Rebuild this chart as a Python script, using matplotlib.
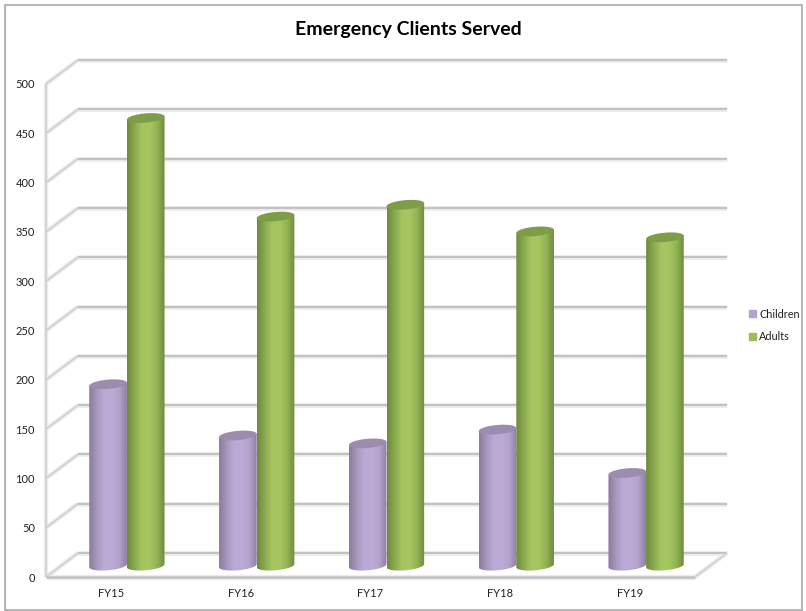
import numpy as np
import matplotlib
matplotlib.use('Agg')
import matplotlib.pyplot as plt
from matplotlib.colors import LinearSegmentedColormap
from matplotlib.patches import Patch, PathPatch, Rectangle
from matplotlib.path import Path

categories = ['FY15', 'FY16', 'FY17', 'FY18', 'FY19']
children = [187, 135, 127, 141, 97]
adults = [457, 357, 369, 342, 336]
y_ticks = [0, 50, 100, 150, 200, 250, 300, 350, 400, 450, 500]

W, H = 806, 611
# depth of the fake 3d box, in data units
DEPTH_X = 0.2466
DEPTH_Y = 24.3
BAR_W = 0.29
BAR_B = 4.7
BAR_TILT = 1.6
BASE_Y = 8.5
GRID = '#c2c2c2'


def ellipse_xy(cx, cy, n=60):
    t = np.linspace(0, 2 * np.pi, n)
    x = cx + BAR_W / 2 * np.cos(t)
    y = cy + BAR_B * np.sin(t) + BAR_TILT * np.cos(t)
    return x, y


def soft_line(ax, xs, ys, lw=1.5, color=GRID):
    ax.plot(xs, ys, color='#ececec', lw=lw + 2, solid_capstyle='butt', zorder=1, clip_on=False)
    ax.plot(xs, ys, color=color, lw=lw, solid_capstyle='butt', zorder=2, clip_on=False)


def draw_box(ax):
    for v in y_ticks:
        soft_line(ax, [-0.5, -0.5 + DEPTH_X], [v, v + DEPTH_Y], lw=1.2, color='#d0d0d0')
        soft_line(ax, [-0.5 + DEPTH_X, 4.5 + DEPTH_X], [v + DEPTH_Y, v + DEPTH_Y])
    soft_line(ax, [-0.5, -0.5], [0, 500], lw=1.2, color='#d0d0d0')
    soft_line(ax, [-0.5, 4.5], [0, 0], lw=1.8)
    soft_line(ax, [4.5, 4.5 + DEPTH_X], [0, DEPTH_Y], lw=1.2, color='#d0d0d0')


def draw_cylinder(ax, cx, value, cols, top_col):
    cmap = LinearSegmentedColormap.from_list('cyl', cols)
    top = value + BASE_Y
    t = np.linspace(np.pi, 2 * np.pi, 40)
    low_x = cx + BAR_W / 2 * np.cos(t)
    low_y = BASE_Y + 3 + BAR_B * np.sin(t) + BAR_TILT * np.cos(t)
    px = np.r_[low_x, cx + BAR_W / 2, cx - BAR_W / 2, low_x[0]]
    py = np.r_[low_y, top + BAR_TILT, top - BAR_TILT, low_y[0]]
    outline = Path(np.c_[px, py])
    grad = np.linspace(0, 1, 200).reshape(1, -1)
    im = ax.imshow(grad, cmap=cmap, aspect='auto', zorder=4, interpolation='bilinear',
                   extent=[cx - BAR_W / 2, cx + BAR_W / 2, low_y.min(), top + 6])
    im.set_clip_path(PathPatch(outline, transform=ax.transData))
    ex, ey = ellipse_xy(cx, top)
    ax.fill(ex, ey, color=top_col, lw=0, zorder=5)


fig = plt.figure(figsize=(W / 100, H / 100), dpi=100)
plt.rcParams['font.family'] = ['Lato', 'DejaVu Sans']
fig.patches.append(Rectangle((5 / W, 1 - 609.5 / H), 797 / W, 605 / H, transform=fig.transFigure,
                             facecolor='white', edgecolor='#a9a9a9', lw=1.2, zorder=-1))

# axes box: category axis runs along the front edge of the floor
ax = fig.add_axes([46 / W, 1 - 577 / H, (695 - 46) / W, (577 - 84) / H])
ax.patch.set_alpha(0)
for s in ax.spines.values():
    s.set_visible(False)

draw_box(ax)

purple = ['#8a7b9c', '#a696bb', '#bcaad6', '#bdabd7', '#b3a2cc', '#8f80a2']
green = ['#6e8a3d', '#8aa94e', '#a5c560', '#a6c662', '#93b253', '#6f8b3f']
for i in range(len(categories)):
    cx = i + DEPTH_X / 2
    draw_cylinder(ax, cx - BAR_W / 2, children[i], purple, '#9c8cb0')
    draw_cylinder(ax, cx + BAR_W / 2, adults[i], green, '#7f9c48')

ax.set_xlim(-0.5, 4.5)
ax.set_ylim(0, 500)
ax.set_xticks(range(len(categories)))
ax.set_xticklabels(categories)
ax.set_yticks(y_ticks)
ax.tick_params(length=0, labelsize=8, colors='#222222', pad=8)
ax.tick_params(axis='x', pad=8)

fig.text(408.5 / W, 1 - 29 / H, 'Emergency Clients Served', ha='center', va='center',
         fontsize=14, fontweight='bold', color='black')

handles = [Patch(color='#b3a2c9', label='Children'), Patch(color='#9dbb59', label='Adults')]
fig.legend(handles=handles, loc='center left', bbox_to_anchor=(749 / W, 1 - 325.5 / H),
           frameon=False, fontsize=7.8, handlelength=0.65, handleheight=0.65, handletextpad=0.3,
           labelspacing=1.1, borderpad=0, borderaxespad=0, labelcolor='#222222')

fig.savefig('out.png', dpi=100)
